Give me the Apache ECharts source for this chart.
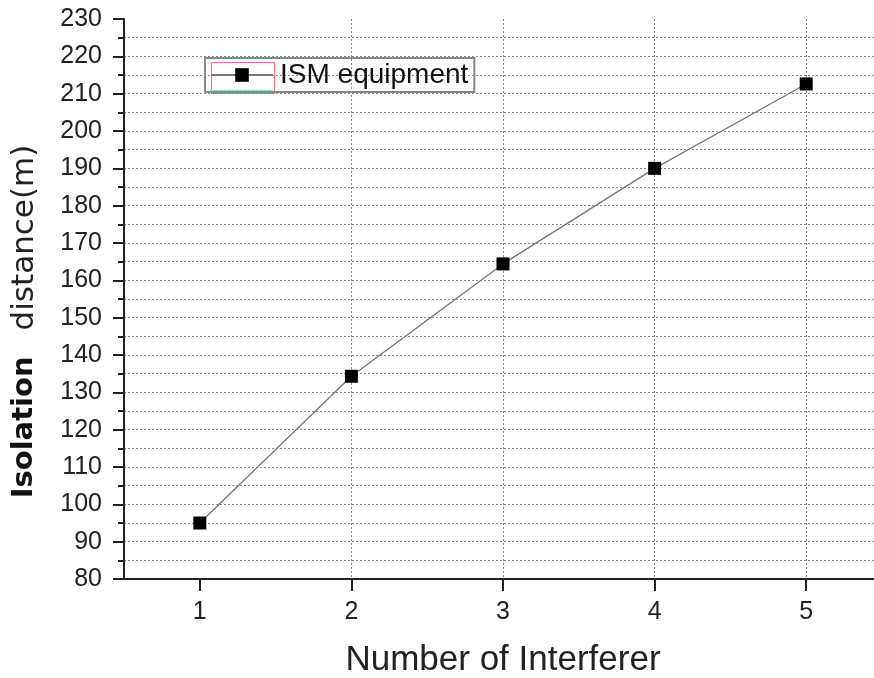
<!DOCTYPE html>
<html>
<head>
<meta charset="utf-8">
<script src="https://cdn.jsdelivr.net/npm/echarts@6/dist/echarts.min.js"></script>
<style>html,body{margin:0;padding:0;background:#fff;}#c{width:874px;height:678px;}</style>
</head>
<body>
<div id="c"></div>
<script>
var interferers = [1, 2, 3, 4, 5];
var isolationDistance = [95, 134.3, 164.4, 190, 212.6];
var xTickValues = [1, 2, 3, 4, 5];
var seriesName = 'ISM equipment';

var chart = echarts.init(document.getElementById('c'), null, {renderer: 'canvas'});
chart.setOption({
  animation: false,
  backgroundColor: '#fff',
  grid: {left: 124, top: 19, right: -8, bottom: 99, containLabel: false, outerBoundsMode: 'none'},
  legend: {
    left: 205, top: 58,
    padding: [3, 6, 3, 5],
    itemWidth: 62, itemHeight: 17, itemGap: 8,
    borderColor: '#888', borderWidth: 2, borderRadius: 0,
    textStyle: {fontFamily: 'Liberation Sans', fontSize: 28, color: '#111', padding: [0, 0, 0, 2]},
    data: [seriesName]
  },
  graphic: [
    {type: 'rect', left: 209, top: 60, shape: {width: 63, height: 31}, style: {fill: null, stroke: '#f08080', lineWidth: 1.2}, silent: true},
    {type: 'rect', left: 210, top: 90, shape: {width: 62, height: 2}, style: {fill: '#7fe8ec'}, silent: true}
  ],
  xAxis: {
    type: 'value', min: 0.5, max: 5.5,
    name: 'Number of Interferer', nameLocation: 'middle', nameGap: 64,
    nameTextStyle: {fontFamily: 'Liberation Sans', fontSize: 35, color: '#222'},
    axisLine: {show: true, lineStyle: {color: '#222', width: 2}},
    axisTick: {show: true, length: 12, customValues: xTickValues, lineStyle: {color: '#222', width: 2}},
    axisLabel: {customValues: xTickValues, margin: 21, fontFamily: 'Liberation Sans', fontSize: 25, color: '#222'},
    splitLine: {show: true, showMinLine: false, lineStyle: {color: '#8a8a8a', width: 1, type: [2, 2]}}
  },
  yAxis: {
    type: 'value', min: 80, max: 230, interval: 10,
    name: '{b|Isolation}{g|}{n|distance(m)}', nameLocation: 'middle', nameGap: 84, nameRotate: 90,
    nameTextStyle: {
      padding: [0, 45, 0, 0],
      rich: {
        b: {fontFamily: 'DejaVu Sans', fontWeight: 'bold', fontSize: 29, color: '#111'},
        g: {width: 26},
        n: {fontFamily: 'DejaVu Sans', fontSize: 31, color: '#222'}
      }
    },
    axisLine: {show: true, lineStyle: {color: '#222', width: 2}},
    axisTick: {show: true, length: 11, lineStyle: {color: '#222', width: 2}},
    minorTick: {show: true, splitNumber: 2, length: 6, lineStyle: {color: '#222', width: 2}},
    axisLabel: {margin: 22, fontFamily: 'Liberation Sans', fontSize: 25, color: '#222'},
    splitLine: {show: true, showMaxLine: false, lineStyle: {color: '#8a8a8a', width: 1, type: [2, 2]}},
    minorSplitLine: {show: true, lineStyle: {color: '#8a8a8a', width: 1, type: [2, 2]}}
  },
  series: [{
    name: seriesName, type: 'line',
    data: interferers.map(function (x, i) { return [x, isolationDistance[i]]; }),
    symbol: 'rect', symbolSize: 13,
    itemStyle: {color: '#000'},
    lineStyle: {color: '#777', width: 1.3},
    z: 5
  }]
});
</script>
</body>
</html>
